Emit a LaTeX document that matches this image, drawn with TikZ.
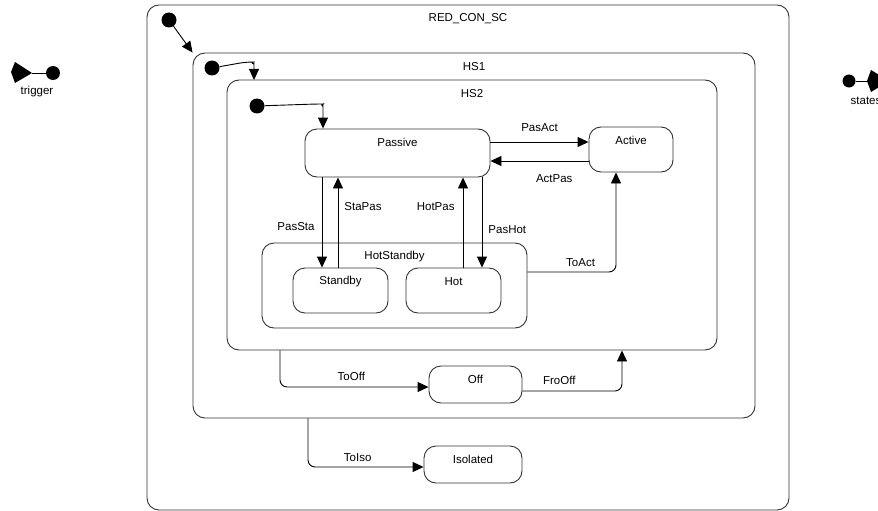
\documentclass[tikz,border=0pt]{standalone}
\usetikzlibrary{arrows.meta, positioning}
\usepackage{fontspec}
\setmainfont{Liberation Sans}
\usepackage{xcolor}

\begin{document}
\begin{tikzpicture}[x=1pt,y=-1pt,>={Triangle[length=11pt,width=10pt]}, font=\fontsize{11.5}{13.8}\selectfont]
    \tikzstyle{state}=[draw=black!80, line width=0.9pt, rectangle, rounded corners=12pt, inner sep=0pt]
    \tikzstyle{title}=[anchor=center, yshift=-14pt, inner sep=0pt]
    \tikzstyle{init}=[circle, fill=black, minimum size=15pt, inner sep=0pt]
    \tikzstyle{trans}=[->, draw=black, line width=0.9pt, rounded corners=7pt]
    \tikzstyle{lbl}=[inner sep=2pt, text height=8.5pt, text depth=0pt]

    \useasboundingbox (0,0) rectangle (878,511);

    % nested states
    \node[state, minimum width=642pt, minimum height=505pt, label={[title]north:RED\_CON\_SC}] (RED) at (468,257.5) {};
    \node[state, minimum width=562pt, minimum height=365pt, label={[title]north:HS1}] (HS1) at (474,235.5) {};
    \node[state, minimum width=490pt, minimum height=270pt, label={[title]north:HS2}] (HS2) at (472,215) {};
    \node[state, minimum width=185pt, minimum height=48pt, label={[title]north:Passive}] (Passive) at (397.5,153) {};
    \node[state, minimum width=84pt, minimum height=45pt, label={[title]north:Active}] (Active) at (631,149.5) {};
    \node[state, minimum width=265pt, minimum height=85pt, label={[title]north:HotStandby}] (HotStandby) at (394.5,285.5) {};
    \node[state, minimum width=95pt, minimum height=45pt, label={[title]north:Standby}] (Standby) at (340.5,290.5) {};
    \node[state, minimum width=95pt, minimum height=45pt, label={[title]north:Hot}] (Hot) at (453.5,290.5) {};
    \node[state, minimum width=93pt, minimum height=37pt, label={[title]north:Off}] (Off) at (475.5,384.5) {};
    \node[state, minimum width=98pt, minimum height=37pt, label={[title]north:Isolated}] (Isolated) at (473,464.5) {};

    % initial transitions
    \node[init] (RED-0) at (169,20) {};
    \node[init] (HS1-0) at (212,68) {};
    \node[init] (HS2-0) at (257,106) {};
    \coordinate (HS2-in) at (254,80);
    \draw[trans] (RED-0) -- (HS1.north west);
    \draw[trans] (HS1-0) -- (246,62) to[out=0,in=90] (254,70) -- (HS2-in);
    \draw[trans] (HS2-0) -- (316,104) to[out=0,in=90] (323,112) -- ([xshift=-74.5pt]Passive.north);

    \draw[trans] ([yshift=11pt]Passive.east) -- ([yshift=11pt]Passive.east -| Active.west) node[lbl, midway, above=7.7pt] (PasAct) {PasAct};
    \draw[trans] ([yshift=-11.5pt]Active.west) -- ([yshift=-11.5pt]Active.west -| Passive.east) node[lbl, pos=0.35, below=11pt] (ActPas) {ActPas};

    \draw[trans] ([xshift=-75.5pt]Passive.south) -- ([xshift=-75.5pt]Passive.south |- Standby.north) node[lbl, pos=0.54, left=5pt] (PasSta) {PasSta};
    \draw[trans] ([xshift=-59.5pt]Passive.south |- Standby.north) -- ([xshift=-59.5pt]Passive.south) node[lbl, pos=0.68, right=4pt] (StaPas) {StaPas};
    \draw[trans] ([xshift=65.5pt]Passive.south |- Hot.north) -- ([xshift=65.5pt]Passive.south) node[lbl, pos=0.68, left=6pt] (HotPas) {HotPas};
    \draw[trans] ([xshift=84.5pt]Passive.south) -- ([xshift=84.5pt]Passive.south |- Hot.north) node[lbl, pos=0.58, right=4pt] (PasHot) {PasHot};

    \draw[trans] ([yshift=13.5pt]HotStandby.east) -| ([xshift=-15pt]Active.south) node[lbl, pos=0.3, above=2.7pt] (ToAct) {ToAct};
    \draw[trans] ([xshift=-192pt]HS2.south) |- ([yshift=-2.5pt]Off.west) node[lbl, pos=0.74, above=3.7pt] (ToOff) {ToOff};
    \draw[trans] ([yshift=-6.5pt]Off.east) -| ([xshift=150pt]HS2.south) node[lbl, pos=0.185, above=3.7pt] (FroOff) {FroOff};
    \draw[trans] ([xshift=-166pt]HS1.south) |- ([yshift=-2.5pt]Isolated.west) node[lbl, pos=0.715, above=2.7pt] (ToIso) {ToIso};

    % ports
    \node[init, minimum size=14pt] (trigger) at (53,73) {};
    \fill (11,72) -- (15,62) -- (32,73) -- (15,83) -- cycle;
    \draw[line width=0.9pt] (32,73) -- (trigger);
    \node (trigger-l) at (37,92) {trigger};

    \node[init, minimum size=13pt] (states) at (849,81) {};
    \draw[line width=0.9pt] (states) -- (868,81);
    \fill (867,81) -- (871,70) -- (889,81) -- (871,92) -- cycle;
    \node (states-l) at (866,101) {states};
\end{tikzpicture}
\end{document}
